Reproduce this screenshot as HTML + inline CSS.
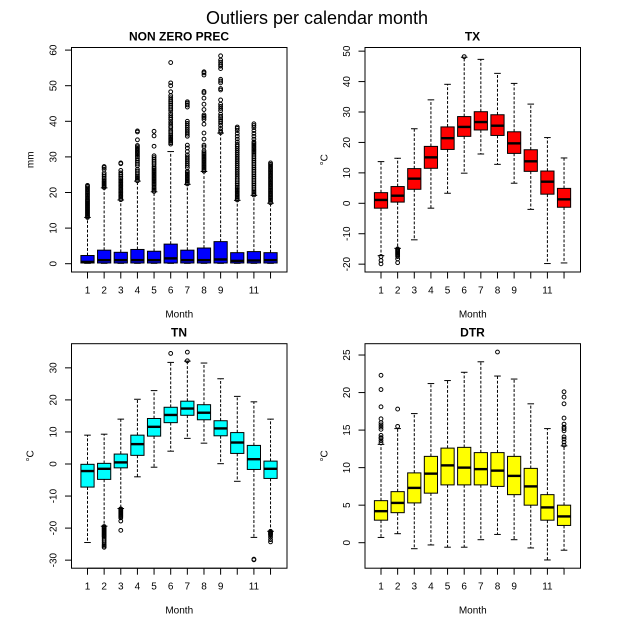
<!DOCTYPE html>
<html>
<head>
<meta charset="utf-8">
<title>Outliers per calendar month</title>
<style>
html,body{margin:0;padding:0;background:#fff;}
svg{display:block;font-family:"Liberation Sans",sans-serif;filter:blur(0.35px);}
text{fill:#000;}
</style>
</head>
<body>
<svg id="fig" xmlns="http://www.w3.org/2000/svg" width="640" height="640" viewBox="0 0 640 640">
<rect width="640" height="640" fill="#fff"/>
<text x="317" y="24" font-size="18" text-anchor="middle">Outliers per calendar month</text>
</svg>
<script>
const months = [1,2,3,4,5,6,7,8,9,10,11,12];
const monthLabels = ['1','2','3','4','5','6','7','8','9','','11',''];

const precTicks = [0,10,20,30,40,50,60];
const precQ1 = [0.2,0.2,0.2,0.2,0.2,0.2,0.2,0.2,0.2,0.2,0.2,0.2];
const precMedian = [0.5,1,1,1,1,1.5,1,1,1.2,0.8,0.9,1];
const precQ3 = [2.3,3.8,3.2,4,3.5,5.5,3.8,4.4,6.2,3.1,3.4,3.1];
const precLow = [0.1,0.1,0.1,0.1,0.1,0.1,0.1,0.1,0.1,0.1,0.1,0.1];
const precHigh = [13,21.3,17.9,23.2,20.2,31.5,22.3,25.9,36.7,17.8,19.2,17];
const precOutliers = [
 [13,13.3,13.6,13.9,14.2,14.5,14.8,15.1,15.4,15.7,16,16.3,16.6,16.9,17.2,17.5,17.8,18.1,18.5,18.9,19.3,19.7,20.1,20.5,20.9,21.3,21.7,22],
 [21.4,21.7,22,22.3,22.6,22.9,23.2,23.6,24,24.5,25,25.5,26.5,27,27.3],
 [18,18.4,18.8,19.2,19.6,20,20.4,20.8,21.2,21.6,22,22.4,22.8,23.2,23.6,24,24.5,25,25.5,26.2,28.1,28.3],
 [23.3,23.7,24.1,24.5,25,25.5,26,26.5,27.5,28,28.5,29,29.5,30,30.4,30.8,31.2,31.6,32,32.4,32.8,33.2,34.8,37,37.3],
 [20.3,20.7,21.1,21.5,22,22.4,22.8,23.2,23.6,24,24.4,24.8,25.2,25.6,26,26.4,26.8,27.2,27.8,28.3,28.8,29.3,29.8,30.3,33,35.9,37.2],
 [33.6,34,34.4,34.8,35.2,35.6,36,36.5,37,37.5,38.2,38.6,39.2,39.8,40.5,41,41.6,42.2,43,43.5,44,44.5,45,45.5,46,46.6,47.2,48.3,50,50.8,56.5],
 [22.4,22.8,23.2,23.6,24,24.4,24.8,25.2,25.6,26,27,27.6,28.2,28.8,29.4,30,30.6,31.5,32.5,33.3,35.8,36.4,37,37.6,38.2,38.8,39.4,40,44,44.6,45.1,45.5],
 [26,26.4,26.8,27.2,27.6,28,28.4,28.8,29.2,29.6,30,30.4,30.8,31.2,31.7,32.8,33.3,35,36.7,39.2,40.5,41,41.4,41.8,43.3,44.8,46.5,48,48.4,53,53.6,53.9],
 [36.8,37.3,38,38.8,39.5,40,40.5,41,41.4,42,43,43.6,44.2,44.8,46,48.8,49.2,50.8,51.3,51.8,54.8,55.5,56,56.6,57.2,58.4],
 [17.9,18.3,18.7,19.1,19.5,19.9,20.3,20.7,21.1,21.5,22,22.5,23,23.5,24,24.6,25.2,25.8,26.4,27,27.6,28.2,28.8,29.4,30,30.6,31.2,31.8,32.4,33,33.5,34.2,35,35.8,36.6,37.4,38,38.4],
 [19.3,19.7,20.1,20.5,21,21.5,22,22.5,23,23.5,24,24.5,25,25.5,26,26.5,27,27.5,28,28.5,29,29.5,30,30.5,31,31.4,31.8,32.2,32.6,33,33.4,33.8,34.2,35,35.8,36.6,37.4,38.2,38.8,39.3],
 [17.1,17.5,17.9,18.3,18.7,19.1,19.5,19.9,20.3,20.7,21.1,21.5,21.9,22.3,22.7,23.1,23.5,23.9,24.3,24.7,25.1,25.5,25.9,26.3,26.7,27.1,27.5,27.9,28.3]
];

const txTicks = [-20,-10,0,10,20,30,40,50];
const txQ1 = [-1.6,0.4,4.6,11.5,17.7,22,24.1,22.3,16.4,10.5,3,-1.3];
const txMedian = [1.1,2.5,8.1,15.1,21.4,25.1,26.7,25.5,19.7,13.8,7.1,1.3];
const txQ3 = [3.5,5.5,11.4,18.7,25.1,28.5,30.1,29.1,23.5,17.6,10.6,4.9];
const txLow = [-17.2,-14.8,-12,-1.6,3.3,9.9,16.2,12.8,6.6,-2,-19.8,-19.6];
const txHigh = [13.7,14.8,24.5,34,39.1,48,47.3,42.7,39.4,32.6,21.6,14.9];
const txOutliers = [
 [-17.5,-18.8,-19.9],
 [-15,-15.3,-15.6,-15.9,-16.2,-16.5,-16.8,-17.1,-17.5,-18.3,-19.5],
 [],[],[],[48.2],[],[],[],[],[],[]
];

const tnTicks = [-30,-20,-10,0,10,20,30];
const tnQ1 = [-7.2,-4.8,-1.2,2.7,8.7,12.9,15.2,13.8,8.8,3.3,-1.7,-4.5];
const tnMedian = [-2.2,-1.5,0.5,6.2,11.6,15.3,17.3,16,11.1,6.7,1.5,-1.5];
const tnQ3 = [-0.1,0.2,3.1,9,14.2,17.7,19.6,18.5,13.5,9.8,5.8,0.9];
const tnLow = [-24.5,-19.4,-13.9,-4,-1,4,8,6.5,0.1,-5.4,-22.9,-21];
const tnHigh = [9,9.3,14,20.2,22.9,31.7,32.1,31.5,26.6,21.1,19.4,14];
const tnOutliers = [
 [],
 [-19.5,-19.8,-20.1,-20.4,-20.7,-21,-21.3,-21.6,-21.9,-22.2,-22.5,-22.8,-23.4,-24,-24.6,-25.2,-25.6,-26],
 [-14,-14.3,-14.6,-14.9,-15.2,-15.5,-15.8,-16.1,-16.4,-16.8,-17.8,-20.7],
 [],[],[34.5],[32.2,34.9],[],[],[],[-29.9,-29.7],
 [-21,-21.3,-21.6,-21.9,-22.2,-22.8,-23.6,-24.3]
];

const dtrTicks = [0,5,10,15,20,25];
const dtrQ1 = [3,4,5.3,6.6,7.7,7.7,7.7,7.5,6.4,5,3,2.3];
const dtrMedian = [4.2,5.3,7.3,9.2,10.3,10,9.8,9.6,8.9,7.5,4.7,3.5];
const dtrQ3 = [5.6,6.8,9.3,11.5,12.6,12.7,12,12,11.5,9.9,6.4,5];
const dtrLow = [0.7,1.2,-0.8,-0.3,-0.6,-0.6,0.4,1.1,0.4,-0.7,-2.3,-1];
const dtrHigh = [13.1,15.2,17.2,21.2,21.6,22.7,24.1,22.2,21.8,18.5,15.2,12.9];
const dtrOutliers = [
 [13.3,13.6,13.9,14,14.3,15.1,15.4,15.7,16,16.5,18.1,20.4,22.3],
 [15.5,17.8],
 [],[],[],[],[],[25.4],[],[],[],
 [13,13.4,13.8,14.1,14.9,15.2,15.4,15.8,16.6,18.5,19.4,20.1]
];

const panels = [
 {key:'prec',title:'NON ZERO PREC',ylab:'mm',fill:'#0000ff',left:71.5,top:47.5,ticks:precTicks,y0:0,y0px:263.7,scale:3.56,ylabX:30,titleX:179,q1:precQ1,med:precMedian,q3:precQ3,low:precLow,high:precHigh,out:precOutliers},
 {key:'tx',title:'TX',ylab:'°C',fill:'#ff0000',left:365,top:47.5,ticks:txTicks,y0:0,y0px:203.3,scale:3.043,ylabX:324,titleX:472.5,q1:txQ1,med:txMedian,q3:txQ3,low:txLow,high:txHigh,out:txOutliers},
 {key:'tn',title:'TN',ylab:'°C',fill:'#00ffff',left:71.5,top:343.7,ticks:tnTicks,y0:0,y0px:464,scale:3.205,ylabX:30,titleX:179,q1:tnQ1,med:tnMedian,q3:tnQ3,low:tnLow,high:tnHigh,out:tnOutliers},
 {key:'dtr',title:'DTR',ylab:'°C',fill:'#ffff00',left:365,top:343.7,ticks:dtrTicks,y0:0,y0px:542.7,scale:7.507,ylabX:324,titleX:472.5,q1:dtrQ1,med:dtrMedian,q3:dtrQ3,low:dtrLow,high:dtrHigh,out:dtrOutliers}
];

const NS = 'http://www.w3.org/2000/svg';
const fig = document.getElementById('fig');
const PW = 215.5, PH = 224.5, STEP = 16.64, AXW = 1;

function mk(parent, tag, attrs, txt){
  const e = document.createElementNS(NS, tag);
  for (const k in attrs) e.setAttribute(k, attrs[k]);
  if (txt !== undefined) e.textContent = txt;
  parent.appendChild(e);
  return e;
}

panels.forEach(function(p){
  const xs = function(m){ return p.left + 16 + (m - 1) * STEP; };
  const ys = function(v){ return p.y0px - (v - p.y0) * p.scale; };
  const bottom = p.top + PH;

  const g = mk(fig, 'g', {});
  
  

  const frame = mk(g, 'rect', {x:p.left, y:p.top, width:PW, height:PH, fill:'none', stroke:'#000', 'stroke-width':AXW});
  
  

  const title = mk(g, 'text', {x:p.titleX, y:p.top - 7, 'font-size':12, 'font-weight':'bold', 'text-anchor':'middle'}, p.title);
  
  

  const xlab = mk(g, 'text', {x:p.left + PW / 2, y:bottom + 45.5, 'font-size':10, 'text-anchor':'middle'}, 'Month');
  
  

  const ymid = p.top + PH / 2;
  const ylab = mk(g, 'text', {transform:'translate(' + (p.ylabX + 3.5) + ',' + ymid + ') rotate(-90)', 'font-size':10, 'text-anchor':'middle'}, p.ylab);
  
  

  // x axis
  const xAxis = mk(g, 'g', {stroke:'#000', 'stroke-width':AXW});
  
  
  mk(xAxis, 'line', {x1:xs(months[0]), x2:xs(months[months.length - 1]), y1:bottom, y2:bottom});
  months.forEach(function(m, i){
    mk(xAxis, 'line', {x1:xs(m), x2:xs(m), y1:bottom, y2:bottom + 6.5});
    if (monthLabels[i]) {
      const t = mk(g, 'text', {x:xs(m), y:bottom + 21.5, 'font-size':10, 'text-anchor':'middle'}, monthLabels[i]);
      
      
    }
  });

  // y axis
  const yAxis = mk(g, 'g', {stroke:'#000', 'stroke-width':AXW});
  
  
  mk(yAxis, 'line', {x1:p.left, x2:p.left, y1:ys(p.ticks[0]), y2:ys(p.ticks[p.ticks.length - 1])});
  p.ticks.forEach(function(v){
    mk(yAxis, 'line', {x1:p.left - 6.5, x2:p.left, y1:ys(v), y2:ys(v)});
    const t = mk(g, 'text', {transform:'translate(' + (p.left - 15) + ',' + ys(v) + ') rotate(-90)', 'font-size':10, 'text-anchor':'middle'}, String(v));
    
    
  });

  // boxes
  months.forEach(function(m, i){
    const cx = xs(m);
    const box = mk(g, 'g', {});
    
    
    mk(box, 'line', {x1:cx, x2:cx, y1:ys(p.q3[i]), y2:ys(p.high[i]), stroke:'#000', 'stroke-width':AXW, 'stroke-dasharray':'2.9,1.7'});
    mk(box, 'line', {x1:cx, x2:cx, y1:ys(p.q1[i]), y2:ys(p.low[i]), stroke:'#000', 'stroke-width':AXW, 'stroke-dasharray':'2.9,1.7'});
    mk(box, 'line', {x1:cx - 3.3, x2:cx + 3.3, y1:ys(p.high[i]), y2:ys(p.high[i]), stroke:'#000', 'stroke-width':AXW});
    mk(box, 'line', {x1:cx - 3.3, x2:cx + 3.3, y1:ys(p.low[i]), y2:ys(p.low[i]), stroke:'#000', 'stroke-width':AXW});
    mk(box, 'rect', {x:cx - 6.6, y:ys(p.q3[i]), width:13.2, height:ys(p.q1[i]) - ys(p.q3[i]), fill:p.fill, stroke:'#000', 'stroke-width':AXW});
    mk(box, 'line', {x1:cx - 6.6, x2:cx + 6.6, y1:ys(p.med[i]), y2:ys(p.med[i]), stroke:'#000', 'stroke-width':2.4});
    p.out[i].forEach(function(v){
      mk(box, 'circle', {cx:cx, cy:ys(v), r:1.9, fill:'none', stroke:'#000', 'stroke-width':1});
    });
  });
});
</script>
</body>
</html>
